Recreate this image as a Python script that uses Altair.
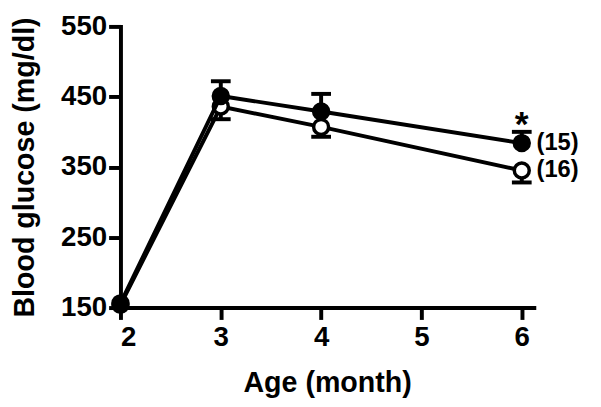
import altair as alt
import pandas as pd

months = [2, 3, 4, 6]
filled_mean = [156, 451, 429, 384]
filled_err = [0, 21, 25, 16]
open_mean = [154, 436, 407, 345]
open_err = [0, 18, 14, 17]
n_labels = ["(15)", "(16)"]

FONT = "Liberation Sans"

rows = []
for m, v, e in zip(months, filled_mean, filled_err):
    rows.append({"month": m, "group": "filled", "mean": v, "lo": v, "hi": v + e})
for m, v, e in zip(months, open_mean, open_err):
    rows.append({"month": m, "group": "open", "mean": v, "lo": v - e, "hi": v})
df = pd.DataFrame(rows)
df_f = df[df.group == "filled"]
df_o = df[df.group == "open"]

ann = pd.DataFrame({
    "month": [6, 6],
    "mean": [filled_mean[-1], open_mean[-1]],
    "label": n_labels,
})
star = pd.DataFrame({"month": [6], "mean": [filled_mean[-1] + filled_err[-1]], "label": ["*"]})

xs = alt.Scale(domain=[2, 6.12], nice=False, zero=False)
ys = alt.Scale(domain=[150, 550], nice=False, zero=False)

axis_style = dict(
    grid=False, domainColor="black", domainWidth=4, domainCap="square",
    tickColor="black", tickWidth=4, tickSize=12,
    labelFont=FONT, labelFontSize=28, labelFontWeight="bold", labelColor="black",
    titleFont=FONT, titleFontSize=29, titleFontWeight="bold", titleColor="black",
    format="d",
)

X = alt.X("month:Q", scale=xs,
          axis=alt.Axis(values=[2, 3, 4, 5, 6], title="Age (month)", titlePadding=18,
                        labelPadding=4, **axis_style))
Y = alt.Y("mean:Q", scale=ys,
          axis=alt.Axis(values=[150, 250, 350, 450, 550], title="Blood glucose (mg/dl)",
                        titlePadding=21, labelPadding=2, **axis_style))


def series(d, fill):
    line = alt.Chart(d).mark_line(color="black", strokeWidth=4).encode(x=X, y=Y)
    rule = alt.Chart(d).mark_rule(color="black", strokeWidth=4, opacity=1).encode(
        x="month:Q", y="lo:Q", y2="hi:Q")
    capy = "hi:Q" if fill == "black" else "lo:Q"
    cap = alt.Chart(d[d.month != 2]).mark_tick(
        color="black", orient="horizontal", size=20, thickness=4, opacity=1).encode(
        x="month:Q", y=alt.Y(capy))
    pts = alt.Chart(d).mark_point(
        shape="circle", size=230, filled=True, fill=fill, stroke="black",
        strokeWidth=3.5, opacity=1).encode(x="month:Q", y="mean:Q")
    return [line, rule, cap, pts]


text = alt.Chart(ann).mark_text(
    align="left", baseline="middle", dx=15, fontSize=24, fontWeight="bold",
    font=FONT, color="black").encode(x="month:Q", y="mean:Q", text="label:N")
stxt = alt.Chart(star).mark_text(
    align="center", baseline="middle", dy=-7, fontSize=36, fontWeight="bold",
    font=FONT, color="black").encode(x="month:Q", y="mean:Q", text="label:N")

layers = series(df_o, "white") + series(df_f, "black") + [text, stxt]

chart = alt.layer(*layers).properties(
    width=419, height=285,
    autosize=alt.AutoSizeParams(type="none"),
    padding={"left": 114, "top": 16, "right": 60, "bottom": 90},
).configure_view(stroke=None)

chart.save("out.html", embed_options={"renderer": "svg", "actions": False})
